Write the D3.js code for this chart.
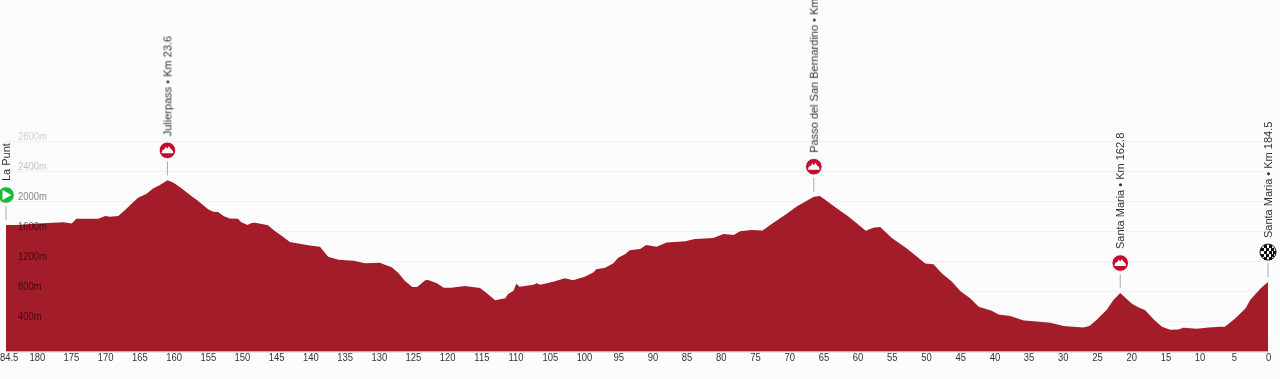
<!DOCTYPE html>
<html>
<head>
<meta charset="utf-8">
<title>Stage profile</title>
<script src="https://cdn.jsdelivr.net/npm/d3@7"></script>
<style>
  html, body { margin: 0; padding: 0; background: #fcfcfc; overflow: hidden; }
  svg { display: block; font-family: "Liberation Sans", Arial, sans-serif; }
</style>
</head>
<body>
<div id="chart"></div>
<script>
const kmToGo = [184.5,183.0,180.5,177.6,176.1,174.9,174.2,171.0,170.0,169.3,168.1,167.1,166.1,165.2,164.0,163.0,162.0,160.9,160.0,158.8,157.6,156.6,155.7,154.9,154.2,153.5,152.7,151.8,150.6,150.1,149.2,148.6,148.1,147.1,146.2,145.2,144.0,143.0,142.0,140.1,138.6,137.4,135.9,133.7,132.0,129.8,129.3,128.1,127.1,126.2,125.1,124.4,123.2,122.8,121.5,120.5,119.4,117.4,115.2,114.2,113.0,111.5,111.1,110.3,109.9,109.4,107.4,106.9,106.4,104.5,102.8,101.6,99.9,98.6,98.2,96.9,95.7,95.0,94.0,93.3,91.8,90.9,89.4,87.9,86.7,85.2,83.8,81.1,79.6,78.1,77.2,75.5,73.9,72.3,70.4,68.9,66.4,65.5,63.0,61.3,58.8,57.7,56.7,55.0,52.8,50.1,48.9,47.7,46.2,45.0,43.5,42.3,40.4,39.4,37.7,35.7,31.8,29.9,27.0,26.1,25.0,23.6,22.6,21.6,20.1,19.7,18.9,18.0,16.7,15.5,14.3,13.1,12.4,10.4,8.7,7.0,6.3,4.8,3.3,2.6,1.1,0];
const elevation = [1686,1686,1704,1717,1722,1708,1770,1770,1806,1797,1806,1886,1975,2050,2099,2175,2219,2282,2250,2175,2086,2019,1953,1895,1864,1859,1806,1775,1770,1722,1686,1713,1717,1699,1682,1606,1531,1459,1442,1415,1398,1264,1225,1211,1176,1185,1162,1122,1042,945,860,860,949,953,909,851,851,873,847,776,682,709,767,811,905,865,891,909,891,931,976,949,998,1056,1096,1118,1176,1251,1296,1349,1368,1420,1397,1455,1460,1469,1500,1513,1566,1553,1602,1620,1615,1717,1833,1935,2064,2073,1908,1797,1611,1651,1660,1513,1375,1175,1162,1042,931,806,708,597,544,495,473,415,384,339,321,339,428,552,686,779,655,628,588,552,428,330,290,295,317,304,321,330,330,441,575,686,841,926];

const xTicks = [180,175,170,165,160,155,150,145,140,135,130,125,120,115,110,105,100,95,90,85,80,75,70,65,60,55,50,45,40,35,30,25,20,15,10,5,0];
const xEndTick = 184.5;
const yTicks = [400,800,1200,1600,2000,2400,2800];
const yTickOpacity = [0.6,0.6,0.6,0.6,0.5,0.24,0.18];

const markerNames = ['La Punt','Julierpass • Km 23.6','Passo del San Bernardino • Km 118.1','Santa Maria • Km 162.8','Santa Maria • Km 184.5'];
const markerKm = [184.5,160.9,66.4,21.6,0];
const markerType = ['start','climb','climb','climb','finish'];

const WIDTH = 1280;
const HEIGHT = 379;
const RED = '#a31b2a';
const MARKER_LIFT = 30;

const x = d3.scaleLinear().domain([184.5, 0]).range([6, 1268]);
const y = d3.scaleLinear().domain([0, 2800]).range([351.5, 141.5]);

const svg = d3.select('#chart').append('svg')
  .attr('width', WIDTH)
  .attr('height', HEIGHT);

const defs = svg.append('defs');
const soft = defs.append('filter').attr('id', 'soft')
  .attr('filterUnits', 'userSpaceOnUse')
  .attr('x', 0).attr('y', 0)
  .attr('width', WIDTH).attr('height', HEIGHT);
soft.append('feGaussianBlur').attr('stdDeviation', 0.35);

const root = svg.append('g').attr('filter', 'url(#soft)');

// grid lines sit behind the area
root.append('g').selectAll('line')
  .data(yTicks)
  .join('line')
  .attr('x1', 6)
  .attr('x2', 1268)
  .attr('y1', d => y(d))
  .attr('y2', d => y(d))
  .style('stroke', '#f1f1f1')
  .style('stroke-width', 1);

const area = d3.area()
  .x((d, i) => x(kmToGo[i]))
  .y0(y(0))
  .y1(d => y(d))
  .curve(d3.curveLinear);

root.append('path')
  .datum(elevation)
  .attr('d', area)
  .style('fill', RED);

root.append('line')
  .attr('x1', 6)
  .attr('x2', 1268)
  .attr('y1', y(0) + 0.5)
  .attr('y2', y(0) + 0.5)
  .style('stroke', '#e3c4c8')
  .style('stroke-width', 1);

// elevation labels drawn on top of the area
root.append('g').selectAll('text')
  .data(yTicks)
  .join('text')
  .attr('transform', d => `translate(18,${y(d) - 1.5}) scale(0.9,1)`)
  .style('font-size', '10.5px')
  .style('fill', '#000')
  .style('fill-opacity', (d, i) => yTickOpacity[i])
  .text(d => d + 'm');

const xAxis = d3.axisBottom(x)
  .tickValues([xEndTick].concat(xTicks))
  .tickFormat(d => d)
  .tickSize(0)
  .tickPadding(2);

const axisG = root.append('g')
  .attr('transform', `translate(0,${y(0)})`)
  .call(xAxis);
axisG.select('.domain').remove();
axisG.selectAll('text')
  .attr('transform', 'scale(0.9,1)')
  .style('font-family', '"Liberation Sans", Arial, sans-serif')
  .style('font-size', '10.5px')
  .style('fill', '#333');

function elevationAt(km) {
  return elevation[kmToGo.indexOf(km)];
}

const markers = root.append('g').selectAll('g')
  .data(markerKm)
  .join('g')
  .attr('transform', d => `translate(${x(d)},${y(elevationAt(d)) - MARKER_LIFT})`);

markers.append('line')
  .attr('y1', 11)
  .attr('y2', 25)
  .style('stroke', '#aaaaaa')
  .style('stroke-width', 1);

markers.append('circle')
  .attr('r', 8.3)
  .style('stroke', '#f4f4f4')
  .style('stroke-width', 1)
  .style('fill', (d, i) => ({ start: '#17b93b', climb: '#c30a2d', finish: '#fff' })[markerType[i]]);

markers.filter((d, i) => markerType[i] === 'start').append('path')
  .attr('d', 'M-3.5,-5 L5.5,0 L-3.5,5 Z')
  .style('fill', '#fff');

markers.filter((d, i) => markerType[i] === 'climb').append('path')
  .attr('d', 'M-6,3 L-5,0 L-3,-1 L-1.5,-3.5 L0,-1.5 L1.5,-4 L3.5,-1 L5,0 L6,3 Z')
  .style('fill', '#fff');

// checkered flag ball
const checks = [[-4,-7],[1,-7],[-7,-4],[-2,-4],[3,-4],[-4,-1],[1,-1],[5,-1],[-7,2],[-2,2],[3,2],[-4,5],[1,5]];
markers.filter((d, i) => markerType[i] === 'finish').selectAll('rect')
  .data(checks)
  .join('rect')
  .attr('x', d => d[0])
  .attr('y', d => d[1])
  .attr('width', 3)
  .attr('height', 3)
  .style('fill', '#111');
markers.filter((d, i) => markerType[i] === 'finish').append('circle')
  .attr('r', 8)
  .style('fill', 'none')
  .style('stroke', '#111')
  .style('stroke-width', 1);

markers.append('text')
  .attr('transform', 'translate(0,-14) rotate(-90)')
  .attr('dy', '0.35em')
  .style('font-size', '11px')
  .style('fill', '#333')
  .text((d, i) => markerNames[i]);
</script>
</body>
</html>
